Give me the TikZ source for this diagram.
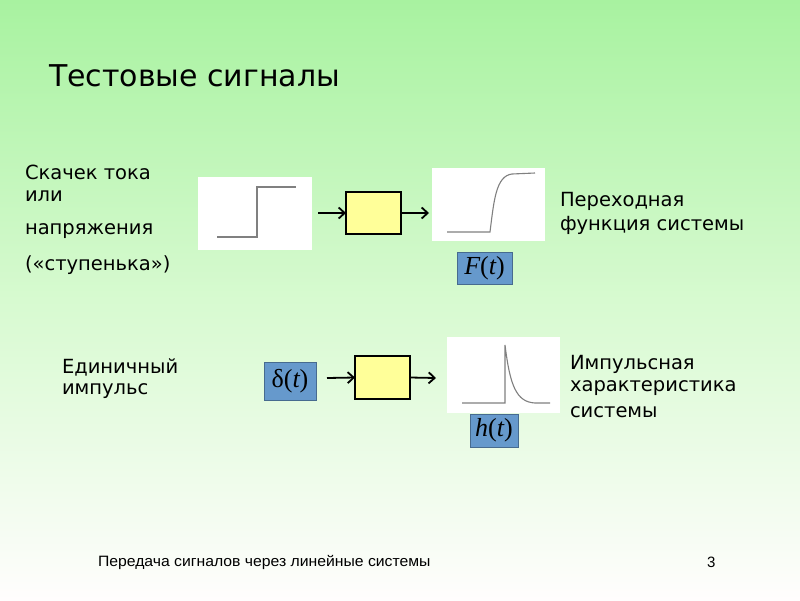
\documentclass[tikz,border=0pt]{standalone}
\usepackage{fontspec}
\setmainfont{DejaVu Sans}
\newfontfamily\footfont{Liberation Sans}
\newfontfamily\mathserif{Liberation Serif}
\usetikzlibrary{arrows.meta}
\definecolor{bgtop}{RGB}{168,242,160}
\definecolor{bgmid}{RGB}{215,250,208}
\definecolor{bgbot}{RGB}{255,253,253}
\definecolor{yel}{RGB}{255,255,153}
\definecolor{sblue}{RGB}{102,153,204}
\definecolor{plotgray}{RGB}{128,128,128}
\tikzset{
  every node/.style={inner sep=0pt, outer sep=0pt},
  txt/.style={anchor=west, font=\fontsize{19.5}{22}\selectfont},
  plotbox/.style={fill=white, draw=none},
  sysbox/.style={fill=yel, draw=black, line width=2pt},
  lbl/.style={fill=sblue, draw=sblue!70!black, line width=0.6pt, font=\fontsize{26}{28}\selectfont\mathserif},
  conn/.style={line width=1.8pt, -{Straight Barb[length=6pt,width=11pt,line width=1.8pt]}},
  curve/.style={plotgray, line width=1.1pt},
}
\begin{document}
\begin{tikzpicture}[x=1pt,y=-1pt]
\useasboundingbox (0,0) rectangle (800,600);
\shade[top color=bgtop, bottom color=bgmid] (0,0) rectangle (800,300);
\shade[top color=bgmid, bottom color=bgbot] (0,300) rectangle (800,600);

\node[anchor=west, font=\fontsize{30}{34}\selectfont] (title) at (49,76) {Тестовые сигналы};

% Row 1
\node[txt] (t1) at (25,172) {Скачек тока};
\node[txt] (t2) at (25,196) {или};
\node[txt] (t3) at (25,231) {напряжения};
\node[txt] (t4) at (25,265) {(«ступенька»)};

\node[plotbox, minimum width=114pt, minimum height=73pt] (in1) at (255,213.5) {};
\draw[curve] (217,237) -- (257,237) -- (257,187) -- (296,187);

\node[sysbox, minimum width=55pt, minimum height=42pt] (sys1) at (373.5,213) {};
\node[plotbox, minimum width=113pt, minimum height=73pt] (out1) at (488.5,204.5) {};
\draw[curve] (447,232) -- (490,232) .. controls (494,200) and (496,176) .. (512,174) -- (535,173);

\coordinate (a1s) at (318,213);
\draw[conn] (a1s) -- (sys1.west);
\coordinate (a1e) at (429,213);
\draw[conn] (sys1.east) -- (a1e);

\node[lbl, minimum width=55pt, minimum height=32pt] (F) at (484.5,268) {\itshape F\upshape(\itshape t\upshape)};

\node[txt] (o1a) at (560,201) {Переходная};
\node[txt] (o1b) at (560,225) {функция системы};

% Row 2
\node[txt] (t5) at (62,367) {Единичный};
\node[txt] (t6) at (62,391) {импульс};

\node[lbl, minimum width=52pt, minimum height=38pt] (d) at (290,381) {δ\upshape(\itshape t\upshape)};
\node[sysbox, minimum width=55pt, minimum height=43pt] (sys2) at (382.5,377.5) {};
\node[plotbox, minimum width=113pt, minimum height=76pt] (out2) at (503.5,375) {};
\draw[curve] (462,403) -- (505,403) -- (505,345) .. controls (510,385) and (516,402) .. (535,403) -- (550,403);

\coordinate (a2s) at (327,378);
\draw[conn] (a2s) -- (sys2.west);
\coordinate (a2e) at (436,378);
\draw[conn] (sys2.east) -- (a2e);

\node[lbl, minimum width=48pt, minimum height=33pt] (h) at (494,430.5) {\itshape h\upshape(\itshape t\upshape)};

\node[txt] (o2a) at (570,364) {Импульсная};
\node[txt] (o2b) at (570,388) {характеристика};
\node[txt] (o2c) at (570,412) {системы};

% Footer
\node[anchor=west, font=\fontsize{15}{17}\selectfont\footfont, xscale=1.05] (foot) at (98,562) {Передача сигналов через линейные системы};
\node[anchor=west, font=\fontsize{15}{17}\selectfont\footfont] (pg) at (707,562) {3};
\end{tikzpicture}
\end{document}
